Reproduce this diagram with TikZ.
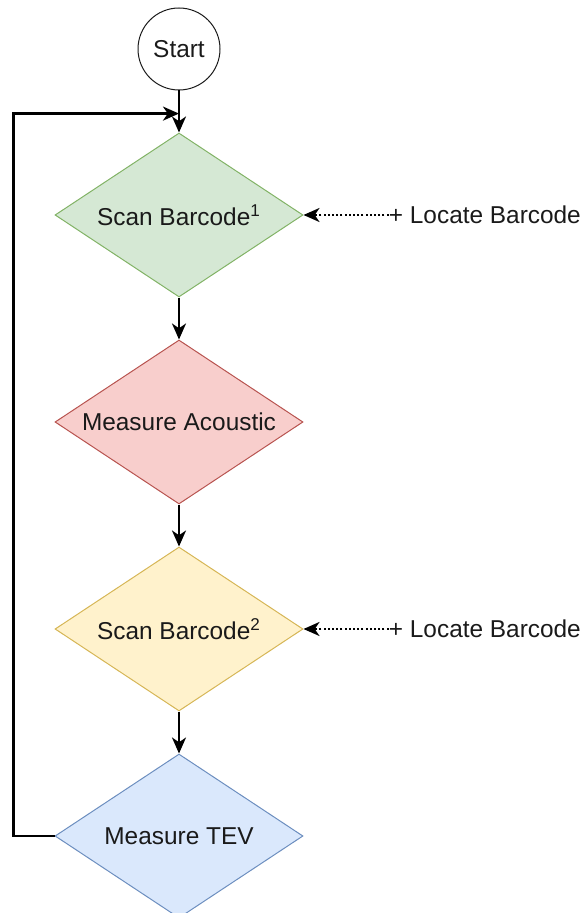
\documentclass[tikz,border=0pt]{standalone}
\usepackage{fontspec}
\setmainfont{Liberation Sans}
\usepackage{tikz}
\usetikzlibrary{arrows.meta,positioning,calc,chains,shapes.geometric}
\usepackage{xcolor}
\definecolor{ink}{RGB}{26,26,26}
\definecolor{grnF}{RGB}{213,232,212}
\definecolor{grnD}{RGB}{130,179,102}
\definecolor{redF}{RGB}{248,206,204}
\definecolor{redD}{RGB}{184,84,80}
\definecolor{ylwF}{RGB}{255,242,204}
\definecolor{ylwD}{RGB}{214,182,86}
\definecolor{bluF}{RGB}{218,232,252}
\definecolor{bluD}{RGB}{108,142,191}
\tikzset{
  txt/.style={font=\fontsize{12.2}{14.6}\selectfont,text=ink},
  startnode/.style={circle,draw=ink,line width=0.5pt,fill=white,minimum size=41pt,inner sep=0pt,txt},
  stepnode/.style={diamond,aspect=1.5,line width=0.5pt,minimum width=124pt,minimum height=82pt,
    inner sep=0pt,txt},
  side/.style={inner sep=0pt,txt},
  arr/.style={-{Stealth[length=8pt,width=7pt,inset=2.4pt]},line width=1.2pt,black},
  dotarr/.style={arr,dash pattern=on 1pt off 1.1pt},
}

\begin{document}
\begin{tikzpicture}[x=0.5pt,y=-0.5pt,start chain=going below,node distance=21pt]
  \useasboundingbox (0,0) rectangle (584,913);
  \node[on chain,startnode] (start) at (179,49) {Start};
  \node[on chain,stepnode,draw=grnD,fill=grnF] (scan1) {Scan Barcode\textsuperscript{1}};
  \node[on chain,stepnode,draw=redD,fill=redF] (acoustic) {Measure Acoustic};
  \node[on chain,stepnode,draw=ylwD,fill=ylwF] (scan2) {Scan Barcode\textsuperscript{2}};
  \node[on chain,stepnode,draw=bluD,fill=bluF] (tev) {Measure TEV};
  \foreach \a/\b in {start/scan1,scan1/acoustic,acoustic/scan2,scan2/tev} {
    \draw[arr] (\a) -- (\b);
  }
  % loop back into the first scan
  \coordinate (merge) at ($(start.south)!0.55!(scan1.north)$);
  \draw[arr] (tev.west) -- ++(-41,0) |- (merge);
  % optional locate steps
  \node[side,right=42.5pt of scan1] (loc1) {+ Locate Barcode};
  \node[side,right=42.5pt of scan2] (loc2) {+ Locate Barcode};
  \draw[dotarr] (loc1) -- (scan1);
  \draw[dotarr] (loc2) -- (scan2);
\end{tikzpicture}
\end{document}
